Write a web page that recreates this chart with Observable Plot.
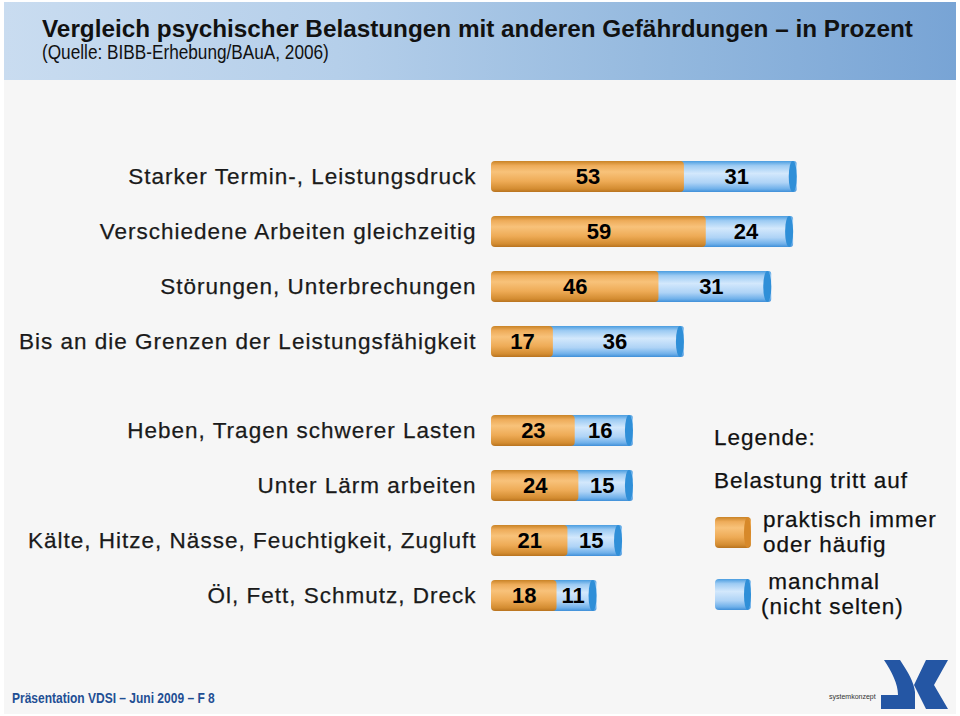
<!DOCTYPE html>
<html><head><meta charset="utf-8">
<script src="https://cdn.jsdelivr.net/npm/d3@7"></script>
<script src="https://cdn.jsdelivr.net/npm/@observablehq/plot@0.6"></script>
<style>
html,body{margin:0;padding:0;background:#fff;}
#slide{position:relative;width:960px;height:716px;overflow:hidden;background:#fff;font-family:"Liberation Sans",Arial,sans-serif;}
#bg{position:absolute;left:4px;top:2px;width:952px;height:712px;background:#f6f6f6;}
#header{position:absolute;left:4px;top:2px;width:952px;height:78px;background:linear-gradient(to right,#c9dcf0 0%,#b5cfea 35%,#93b8de 70%,#78a4d5 100%);}
.abs{white-space:nowrap;position:absolute;}
#title{left:42px;top:15px;font-weight:bold;font-size:24.3px;color:#111;}
#subtitle{left:42px;top:41px;font-size:20px;color:#111;transform:scaleX(0.86);transform-origin:0 0;}
.chart{position:absolute;left:0;}
.lg{position:absolute;white-space:nowrap;font-size:22.5px;letter-spacing:1px;color:#111;-webkit-text-stroke:0.25px #111;}
#footer{left:12px;top:689px;font-weight:bold;font-size:15px;color:#1f4f94;transform:scaleX(0.8);transform-origin:0 0;}
.chart svg [aria-label="y-axis tick label"] text{letter-spacing:1px;stroke:#1a1a1a;stroke-width:0.25px;}
</style></head>
<body>
<svg width="0" height="0" style="position:absolute">
  <defs>
    <linearGradient id="gOrange" x1="0" y1="0" x2="0" y2="1">
      <stop offset="0" stop-color="#c98326"/>
      <stop offset="0.15" stop-color="#eeac5a"/>
      <stop offset="0.35" stop-color="#f8c27a"/>
      <stop offset="0.65" stop-color="#eeab56"/>
      <stop offset="0.9" stop-color="#d38c31"/>
      <stop offset="1" stop-color="#b8731f"/>
    </linearGradient>
    <linearGradient id="gBlue" x1="0" y1="0" x2="0" y2="1">
      <stop offset="0" stop-color="#4a9de0"/>
      <stop offset="0.15" stop-color="#9dcbf3"/>
      <stop offset="0.4" stop-color="#d3e8fc"/>
      <stop offset="0.7" stop-color="#aed3f6"/>
      <stop offset="0.9" stop-color="#6fb0ea"/>
      <stop offset="1" stop-color="#3f8fd8"/>
    </linearGradient>
  </defs>
</svg>
<div id="slide">
  <div id="bg"></div>
  <div id="header"></div>
  <div id="title" class="abs">Vergleich psychischer Belastungen mit anderen Gefährdungen – in Prozent</div>
  <div id="subtitle" class="abs">(Quelle: BIBB-Erhebung/BAuA, 2006)</div>
  <div id="chart1" class="chart" style="top:135px"></div>
  <div id="chart2" class="chart" style="top:389px"></div>

  <div class="lg" style="left:714px;top:425px;">Legende:</div>
  <div class="lg" style="left:714px;top:468px;">Belastung tritt auf</div>
  <svg style="position:absolute;left:714px;top:516px" width="40" height="34">
    <rect x="1" y="1" width="36" height="31" rx="4" fill="url(#gOrange)"/>
    <rect x="30" y="1" width="7" height="31" rx="3.5" ry="15" fill="#d7892a"/>
  </svg>
  <svg style="position:absolute;left:714px;top:578px" width="40" height="34">
    <rect x="1" y="1" width="36" height="31" rx="4" fill="url(#gBlue)"/>
    <rect x="30" y="1" width="7" height="31" rx="3.5" ry="15" fill="#2f8fd8"/>
  </svg>
  <div class="lg" style="left:763px;top:507px;line-height:25px;">praktisch immer<br>oder häufig</div>
  <div class="lg" style="left:761px;top:569px;line-height:25px;">&nbsp;manchmal<br>(nicht selten)</div>

  <div id="footer" class="abs">Präsentation VDSI – Juni 2009 – F 8</div>
  <div class="abs" style="left:829px;top:693px;font-size:7px;color:#333;">systemkonzept</div>
  <svg style="position:absolute;left:878px;top:658px" width="74" height="54">
    <path d="M6,2 L22,2 C30,14 36,24 37,34 L37,51 L3,51 L3,37 L20,37 C20,26 14,14 6,2 Z" fill="#2456a4"/>
    <path d="M48,2 L70,2 L56,27 L70,51 L48,51 L36,27 Z" fill="#2456a4"/>
  </svg>
</div>
<script>
const catsPsych = ["Starker Termin-, Leistungsdruck", "Verschiedene Arbeiten gleichzeitig", "Störungen, Unterbrechungen", "Bis an die Grenzen der Leistungsfähigkeit"];
const orangePsych = [53, 59, 46, 17];
const bluePsych = [31, 24, 31, 36];

const catsOther = ["Heben, Tragen schwerer Lasten", "Unter Lärm arbeiten", "Kälte, Hitze, Nässe, Feuchtigkeit, Zugluft", "Öl, Fett, Schmutz, Dreck"];
const orangeOther = [23, 24, 21, 18];
const blueOther = [16, 15, 15, 11];

function chart(cats, orange, blue) {
  const rows = cats.map((c, i) => ({cat: c, o: orange[i], b: blue[i]}));
  return Plot.plot({
    width: 960, height: 247,
    marginLeft: 491, marginRight: 105, marginTop: 0, marginBottom: 0,
    x: {domain: [0, 100], axis: null},
    y: {domain: cats, padding: 0.44, axis: null},
    style: {background: "transparent", fontFamily: "'Liberation Sans', Arial, sans-serif", color: "#1a1a1a", overflow: "visible"},
    marks: [
      Plot.axisY({tickSize: 0, tickPadding: 15, fontSize: 22.5, label: null}),
      Plot.barX(rows, {x1: "o", x2: d => d.o + d.b, y: "cat", fill: "url(#gBlue)", insetLeft: -6, rx: 3}),
      Plot.barX(rows, {x1: 0, x2: "o", y: "cat", fill: "url(#gOrange)", rx: 4}),
      Plot.barX(rows, {x1: d => d.o + d.b, x2: d => d.o + d.b, y: "cat", fill: "#2f8fd8", insetLeft: -8, rx: 4, ry: 15}),
      Plot.text(rows, {x: d => d.o / 2, y: "cat", text: "o", fontWeight: "bold", fontSize: 22, fill: "#000"}),
      Plot.text(rows, {x: d => d.o + d.b / 2, y: "cat", text: "b", fontWeight: "bold", fontSize: 22, fill: "#000", dx: -4})
    ]
  });
}
document.getElementById("chart1").append(chart(catsPsych, orangePsych, bluePsych));
document.getElementById("chart2").append(chart(catsOther, orangeOther, blueOther));
</script>
</body></html>
